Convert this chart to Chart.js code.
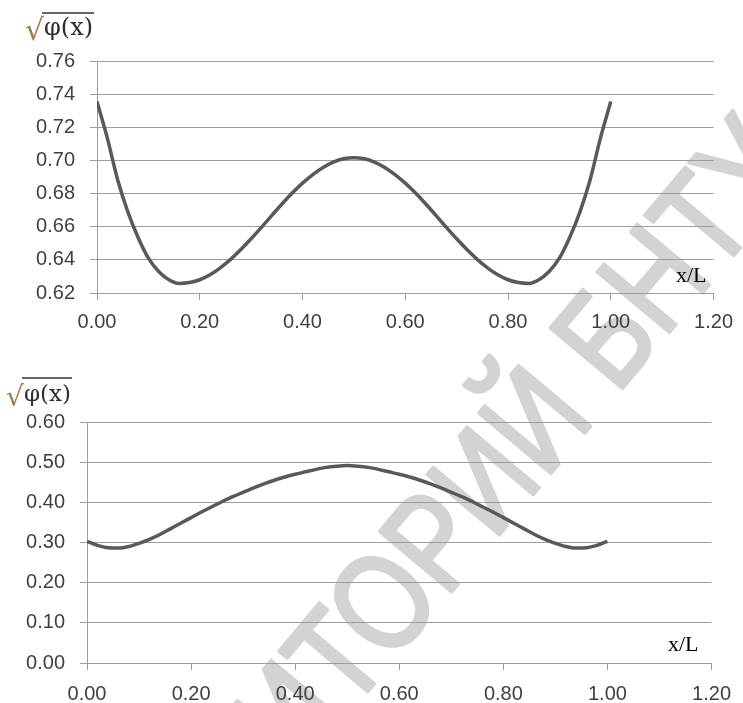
<!DOCTYPE html>
<html>
<head>
<meta charset="utf-8">
<script src="https://cdn.jsdelivr.net/npm/chart.js@4.4.1/dist/chart.umd.min.js"></script>
<style>
  html, body { margin: 0; padding: 0; background: #ffffff; }
  #page { position: relative; width: 743px; height: 703px; overflow: hidden; }
  canvas { position: absolute; left: 0; }
  #mark { top: 0; z-index: 0; }
  #chartTop { top: 0; z-index: 1; }
  #chartBottom { top: 340px; z-index: 1; }
</style>
</head>
<body>
<div id="page">
  <canvas id="mark" width="743" height="703"></canvas>
  <canvas id="chartTop" width="743" height="340"></canvas>
  <canvas id="chartBottom" width="743" height="363"></canvas>
</div>
<script>
// x/L positions shared by both profiles
const xPositions = [
  0.00, 0.02, 0.04, 0.06, 0.08, 0.10, 0.12, 0.14, 0.16, 0.18,
  0.20, 0.22, 0.24, 0.26, 0.28, 0.30, 0.32, 0.34, 0.36, 0.38,
  0.40, 0.42, 0.44, 0.46, 0.48, 0.50, 0.52, 0.54, 0.56, 0.58,
  0.60, 0.62, 0.64, 0.66, 0.68, 0.70, 0.72, 0.74, 0.76, 0.78,
  0.80, 0.82, 0.84, 0.86, 0.88, 0.90, 0.92, 0.94, 0.96, 0.98, 1.00
];

// sqrt(phi(x)), upper profile
const sqrtPhiTop = [
  0.7355, 0.7136, 0.6885, 0.6690, 0.6535, 0.6410, 0.6330, 0.6280, 0.6258, 0.6263,
  0.6280, 0.6310, 0.6352, 0.6403, 0.6462, 0.6527, 0.6596, 0.6667, 0.6737, 0.6803,
  0.6863, 0.6915, 0.6958, 0.6990, 0.7010, 0.7016, 0.7010, 0.6990, 0.6958, 0.6915,
  0.6863, 0.6803, 0.6737, 0.6667, 0.6596, 0.6527, 0.6462, 0.6403, 0.6352, 0.6310,
  0.6280, 0.6263, 0.6258, 0.6280, 0.6330, 0.6410, 0.6535, 0.6690, 0.6885, 0.7136, 0.7355
];

// sqrt(phi(x)), lower profile
const sqrtPhiBottom = [
  0.303, 0.293, 0.287, 0.286, 0.290, 0.298, 0.308, 0.320, 0.334, 0.348,
  0.362, 0.376, 0.389, 0.402, 0.414, 0.425, 0.436, 0.446, 0.455, 0.463,
  0.470, 0.476, 0.482, 0.487, 0.490, 0.4915, 0.490, 0.487, 0.482, 0.476,
  0.470, 0.463, 0.455, 0.446, 0.436, 0.425, 0.414, 0.402, 0.389, 0.376,
  0.362, 0.348, 0.334, 0.320, 0.308, 0.298, 0.290, 0.286, 0.287, 0.293, 0.303
];

// axis ranges and tick steps
const xAxisRange = [0, 1.2, 0.2];
const yRangeTop = [0.62, 0.76, 0.02];
const yRangeBottom = [0, 0.6, 0.1];

const axisLabel = 'x/L';
const funcLabel = 'φ(x)';
const watermarkText = 'РЕПОЗИТОРИЙ БНТУ';

const TICK_FONT = { family: '"Liberation Sans", Arial, sans-serif', size: 20 };
const TICK_COLOR = '#404040';
const GRID_COLOR = '#9d9d9d';
const LINE_COLOR = '#595959';

function points(xs, ys) {
  return xs.map((x, i) => ({ x: x, y: ys[i] }));
}

// axis captions: sqrt(phi(x)) at top left, x/L at the lower right
function captionPlugin(rad, xl) {
  return {
    id: 'captions',
    afterDraw(chart) {
      const ctx = chart.ctx;
      ctx.save();
      // radical sign
      ctx.fillStyle = '#a57a45';
      ctx.font = rad.radSize + 'px "DejaVu Serif", serif';
      ctx.textBaseline = 'alphabetic';
      ctx.fillText('√', rad.x, rad.radBase);
      // vinculum
      ctx.strokeStyle = '#3a3436';
      ctx.lineWidth = 1.5;
      ctx.beginPath();
      ctx.moveTo(rad.x + rad.radW, rad.barY);
      ctx.lineTo(rad.x + rad.radW + rad.barW, rad.barY);
      ctx.stroke();
      // radicand
      ctx.fillStyle = '#2e2a36';
      ctx.font = rad.size + 'px "DejaVu Serif", serif';
      ctx.fillText(funcLabel, rad.x + rad.radW + 2, rad.base);
      // x/L
      ctx.fillStyle = '#000000';
      ctx.font = '22px "Liberation Serif", "Times New Roman", serif';
      ctx.fillText(axisLabel, xl.x, xl.y);
      ctx.restore();
    }
  };
}

function makeChart(canvasId, ys, yRange, geom, rad, xl) {
  return new Chart(document.getElementById(canvasId), {
    type: 'line',
    data: {
      datasets: [{
        data: points(xPositions, ys),
        borderColor: LINE_COLOR,
        borderWidth: 3.5,
        pointRadius: 0,
        fill: false,
        cubicInterpolationMode: 'monotone'
      }]
    },
    options: {
      responsive: false,
      animation: false,
      devicePixelRatio: 1,
      layout: { padding: { left: 0, right: geom.right, top: geom.top, bottom: 0 } },
      plugins: { legend: { display: false }, tooltip: { enabled: false } },
      scales: {
        x: {
          type: 'linear',
          min: xAxisRange[0], max: xAxisRange[1],
          afterFit: s => { s.height = geom.xh; },
          ticks: {
            stepSize: xAxisRange[2],
            padding: geom.xpad,
            color: TICK_COLOR,
            font: TICK_FONT,
            maxRotation: 0,
            callback: v => Number(v).toFixed(2)
          },
          grid: { drawOnChartArea: false, drawTicks: true, tickLength: 7, color: GRID_COLOR, lineWidth: 1 },
          border: { display: true, color: GRID_COLOR, width: 1 }
        },
        y: {
          type: 'linear',
          min: yRange[0], max: yRange[1],
          afterFit: s => { s.width = geom.yw; },
          ticks: {
            stepSize: yRange[2],
            padding: 15,
            color: TICK_COLOR,
            font: TICK_FONT,
            callback: v => Number(v).toFixed(2)
          },
          grid: { drawOnChartArea: true, drawTicks: true, tickLength: 7, color: GRID_COLOR, lineWidth: 1 },
          border: { display: true, color: GRID_COLOR, width: 1 }
        }
      }
    },
    plugins: [captionPlugin(rad, xl)]
  });
}

makeChart('chartTop', sqrtPhiTop, yRangeTop,
  { right: 21, top: 61, xh: 47, yw: 97, xpad: 10 },
  { x: 25, radSize: 30, radBase: 40, radW: 17, barY: 13, barW: 52, size: 24, base: 35 },
  { x: 676, y: 282 });

makeChart('chartBottom', sqrtPhiBottom, yRangeBottom,
  { right: 26, top: 82, xh: 40, yw: 87, xpad: 12 },
  { x: 6, radSize: 28, radBase: 66, radW: 16, barY: 38, barW: 50, size: 23, base: 61 },
  { x: 668, y: 311 });

// repository stamp behind both plots
(function drawMark() {
  const c = document.getElementById('mark');
  const ctx = c.getContext('2d');
  ctx.save();
  ctx.font = '136px "Liberation Sans", Arial, sans-serif';
  ctx.fillStyle = '#d3d3d3';
  ctx.strokeStyle = '#d3d3d3';
  ctx.lineWidth = 4;
  ctx.lineJoin = 'round';
  ctx.textBaseline = 'middle';
  const sx = 0.82;
  const before = ctx.measureText('РЕПОЗИТ').width;
  const oW = ctx.measureText('О').width;
  ctx.translate(392, 604);
  ctx.rotate(-50 * Math.PI / 180);
  ctx.scale(sx, 1);
  const x0 = -(before + oW / 2);
  ctx.fillText(watermarkText, x0, 0);
  ctx.strokeText(watermarkText, x0, 0);
  ctx.restore();
})();
</script>
</body>
</html>
